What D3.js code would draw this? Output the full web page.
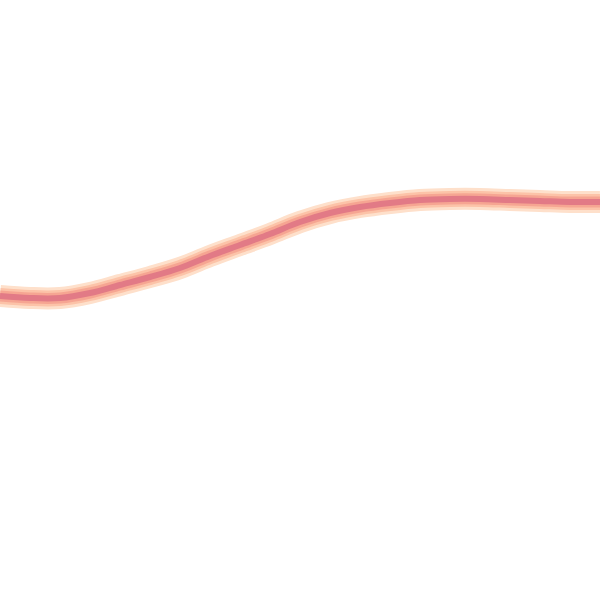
<!DOCTYPE html>
<html>
<head>
<meta charset="utf-8">
<script src="https://cdn.jsdelivr.net/npm/d3@7"></script>
<style>
  body { margin: 0; background: #fff; }
</style>
</head>
<body>
<div id="chart-area"></div>
<script>
// sample positions along the line and the values
var xs = [0, 30, 60, 90, 120, 150, 180, 210, 240, 270, 300, 330, 360, 390, 420, 450, 480, 510, 540, 570, 600];
var values = [304, 302, 302, 307, 315, 323, 332, 344, 355, 366, 378, 387, 393, 397, 400, 401, 401, 400, 399, 398, 398];

var width = 600;
var height = 600;

var svg = d3.select("#chart-area").append("svg")
    .attr("width", width)
    .attr("height", height);

var x = d3.scaleLinear()
    .domain([0, 600])
    .range([0, width]);

var y = d3.scaleLinear()
    .domain([0, 600])
    .range([height, 0]);

var data = xs.map((d, i) => ({ x: d, v: values[i] }));

var line = d3.line()
    .x(d => x(d.x))
    .y(d => y(d.v))
    .curve(d3.curveCatmullRom.alpha(0.5));

// halo layers, widest first
var layers = [
    { w: 22, c: "#fee0cb" },
    { w: 16, c: "#fcc3a8" },
    { w: 11, c: "#f6a592" },
    { w: 6, c: "#e27a86" }
];

layers.forEach(l => {
    svg.append("path")
        .datum(data)
        .attr("d", line)
        .attr("fill", "none")
        .attr("stroke", l.c)
        .attr("stroke-width", l.w)
        .attr("stroke-linecap", "butt");
});
</script>
</body>
</html>
